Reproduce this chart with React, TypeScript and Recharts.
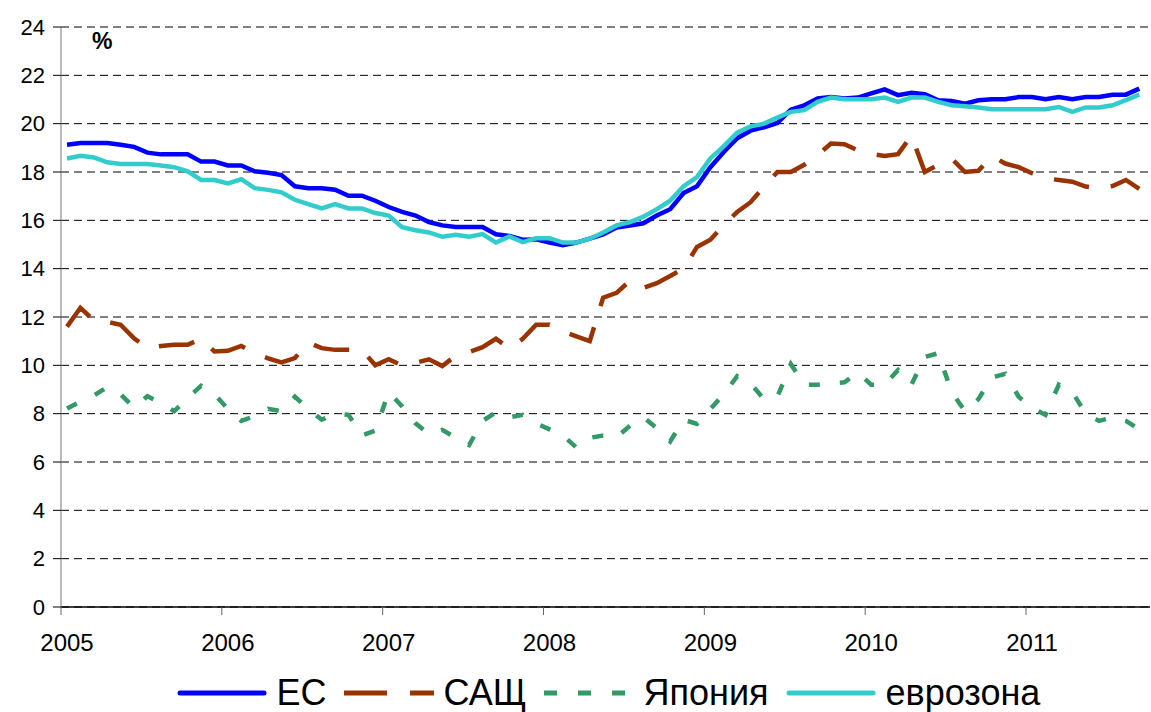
import { LineChart, Line, XAxis, YAxis, CartesianGrid, Legend } from 'recharts';

// monthly values, Jan 2005 .. Sep 2011
const yearLabels = ['2005', '2006', '2007', '2008', '2009', '2010', '2011'];
const yTicks = [0, 2, 4, 6, 8, 10, 12, 14, 16, 18, 20, 22, 24];

const eu = [
  19.13, 19.2, 19.2, 19.2, 19.13, 19.04, 18.8, 18.73, 18.73, 18.73, 18.43, 18.43,
  18.27, 18.27, 18.03, 17.97, 17.87, 17.41, 17.33, 17.33, 17.27, 17.02, 17.02, 16.81,
  16.55, 16.35, 16.2, 15.93, 15.79, 15.72, 15.72, 15.72, 15.42, 15.35, 15.2, 15.21,
  15.08, 14.97, 15.08, 15.24, 15.42, 15.7, 15.79, 15.88, 16.2, 16.46, 17.13, 17.41,
  18.2, 18.83, 19.4, 19.71, 19.85, 20.03, 20.58, 20.76, 21.04, 21.1, 21.04, 21.08,
  21.25, 21.42, 21.18, 21.28, 21.22, 20.97, 20.94, 20.83, 20.97, 21.01, 21.01, 21.1,
  21.1, 21.01, 21.1, 21.01, 21.1, 21.1, 21.2, 21.2, 21.45,
];

const usa = [
  11.6, 12.38, 11.86, 11.8, 11.68, 11.12, 10.71, 10.8, 10.85, 10.85, 11.1, 10.57,
  10.6, 10.8, 10.5, 10.29, 10.12, 10.3, 10.94, 10.71, 10.64, 10.64, 10.64, 10.0,
  10.25, 10.0, 10.1, 10.25, 9.97, 10.4, 10.55, 10.75, 11.1, 10.7, 11.1, 11.68,
  11.68, 11.4, 11.2, 11.0, 12.8, 13.0, 13.5, 13.2, 13.4, 13.7, 14.0, 14.9,
  15.2, 15.8, 16.35, 16.75, 17.4, 18.0, 18.0, 18.3, 18.7, 19.18, 19.15, 18.9,
  18.75, 18.66, 18.74, 19.5, 18.0, 18.3, 18.55, 18.0, 18.05, 18.66, 18.35, 18.2,
  17.95, 17.74, 17.67, 17.6, 17.4, 17.32, 17.42, 17.67, 17.3,
];

const japan = [
  8.21, 8.5, 8.75, 9.1, 8.8, 8.25, 8.72, 8.45, 8.1, 8.65, 9.15, 8.8,
  8.2, 7.7, 7.9, 8.2, 8.1, 8.7, 8.2, 7.75, 8.0, 7.95, 7.1, 7.3,
  8.9, 8.3, 7.6, 7.15, 7.33, 7.0, 6.7, 7.7, 8.05, 7.85, 7.95, 7.6,
  7.35, 7.1, 6.6, 7.0, 7.1, 7.03, 7.5, 7.85, 7.4, 6.85, 7.75, 7.58,
  8.2, 8.8, 9.55, 9.25, 8.6, 8.7, 10.05, 9.2, 9.2, 9.25, 9.3, 9.7,
  9.2, 9.2, 9.8, 9.2, 10.35, 10.5, 8.9, 8.1, 8.6, 9.5, 9.65, 8.7,
  8.25, 7.95, 9.2, 8.9, 8.0, 7.7, 7.85, 7.7, 7.35,
];

const euroArea = [
  18.56, 18.67, 18.6, 18.4, 18.33, 18.33, 18.33, 18.27, 18.2, 18.03, 17.67, 17.67,
  17.53, 17.7, 17.33, 17.26, 17.16, 16.85, 16.67, 16.49, 16.67, 16.49, 16.49, 16.3,
  16.2, 15.72, 15.59, 15.5, 15.32, 15.4, 15.32, 15.43, 15.08, 15.33, 15.1, 15.26,
  15.26, 15.08, 15.08, 15.24, 15.5, 15.79, 15.93, 16.15, 16.46, 16.81, 17.41, 17.79,
  18.56, 19.07, 19.63, 19.89, 20.0, 20.25, 20.49, 20.56, 20.9, 21.08, 21.01, 21.01,
  21.01, 21.08, 20.9, 21.08, 21.08, 20.9, 20.76, 20.72, 20.67, 20.6, 20.6, 20.6,
  20.6, 20.6, 20.69, 20.49, 20.67, 20.67, 20.76, 20.97, 21.2,
];

const series = [
  { key: 'eu', name: 'ЕС', color: '#0000FF', dash: undefined as string | undefined, legendDash: undefined as string | undefined },
  { key: 'usa', name: 'САЩ', color: '#993300', dash: '36 22', legendDash: '43 23' },
  { key: 'japan', name: 'Япония', color: '#339966', dash: '11 20', legendDash: '13 21' },
  { key: 'euro', name: 'еврозона', color: '#33CCCC', dash: undefined, legendDash: undefined },
];

// mid-month positions, 12 units per year
const data = eu.map((v, i) => ({
  t: i + 0.45,
  eu: v,
  usa: usa[i],
  japan: japan[i],
  euro: euroArea[i],
}));

const font = 'Arial, "Liberation Sans", sans-serif';

function renderLegend() {
  return (
    <div
      style={{
        display: 'flex',
        justifyContent: 'center',
        alignItems: 'center',
        gap: 17,
        height: 55,
        paddingTop: 16,
        paddingLeft: 66,
        boxSizing: 'border-box',
        fontFamily: font,
      }}
    >
      {series.map((s) => (
        <div key={s.key} style={{ display: 'flex', alignItems: 'center' }}>
          <svg width={90} height={10}>
            <line
              x1={s.legendDash ? 0 : 3}
              y1={5}
              x2={s.legendDash ? 90 : 87}
              y2={5}
              stroke={s.color}
              strokeWidth={5}
              strokeDasharray={s.legendDash}
              strokeLinecap={s.legendDash ? 'butt' : 'round'}
            />
          </svg>
          <span style={{ fontSize: 36, lineHeight: '40px', color: '#000', marginLeft: 10 }}>{s.name}</span>
        </div>
      ))}
    </div>
  );
}

export default function App() {
  return (
    <div style={{ position: 'absolute', left: 0, top: 0, width: 1151, height: 712, background: '#fff' }}>
      <LineChart width={1151} height={712} data={data} margin={{ top: 27, right: 1, left: 0, bottom: 0 }}>
        <CartesianGrid vertical={false} stroke="#000" strokeDasharray="8 5" />
        <XAxis
          dataKey="t"
          type="number"
          domain={[0, 81.25]}
          ticks={[0, 12, 24, 36, 48, 60, 72]}
          tickFormatter={(v: number) => yearLabels[v / 12]}
          height={50}
          axisLine={{ stroke: '#000', strokeWidth: 1.5 }}
          tickLine={{ stroke: '#666' }}
          tickSize={8}
          tickMargin={19}
          tick={{ fontSize: 24, fill: '#000', fontFamily: font, dx: 6 }}
        />
        <YAxis
          domain={[0, 24]}
          ticks={yTicks}
          width={61}
          interval={0}
          axisLine={{ stroke: '#777' }}
          tickLine={{ stroke: '#000' }}
          tickSize={8}
          tickMargin={8}
          tick={{ fontSize: 22, fill: '#000', fontFamily: font }}
        />
        {series.map((s) => (
          <Line
            key={s.key}
            dataKey={s.key}
            name={s.name}
            type="linear"
            stroke={s.color}
            strokeWidth={4.5}
            strokeDasharray={s.dash}
            dot={false}
            activeDot={false}
            isAnimationActive={false}
          />
        ))}
        <Legend verticalAlign="bottom" height={55} content={renderLegend} wrapperStyle={{ left: 0, bottom: 0, width: 1151, overflow: 'visible' }} />
      </LineChart>
      <div
        style={{
          position: 'absolute',
          left: 92,
          top: 30,
          fontFamily: font,
          fontWeight: 'bold',
          fontSize: 23,
          lineHeight: '23px',
        }}
      >
        %
      </div>
    </div>
  );
}
